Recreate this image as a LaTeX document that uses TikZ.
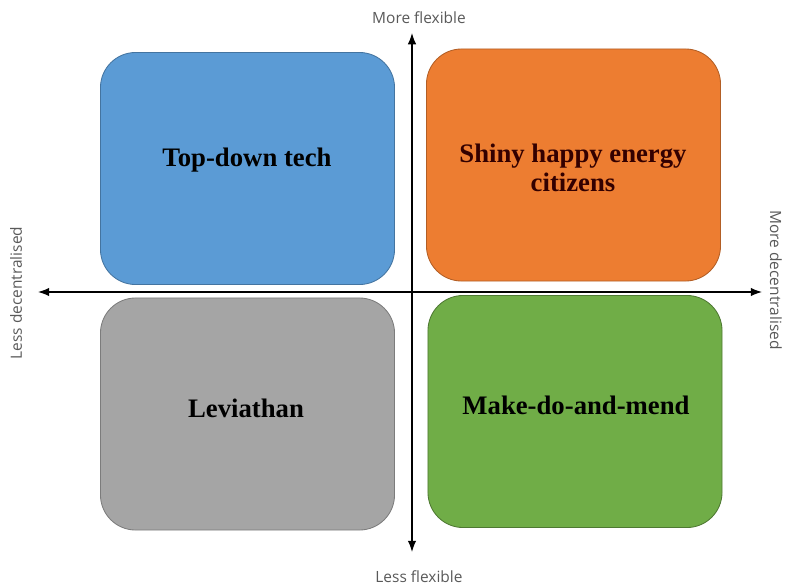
\documentclass[tikz,border=0pt]{standalone}
\usepackage{fontspec}
\setmainfont{Liberation Serif}
\newfontfamily\axisfont{Open Sans}
\usetikzlibrary{arrows.meta}

\definecolor{qblue}{HTML}{5B9BD5}
\definecolor{qorange}{HTML}{ED7D31}
\definecolor{qgray}{HTML}{A5A5A5}
\definecolor{qgreen}{HTML}{70AD47}

\begin{document}
\begin{tikzpicture}[x=0.025cm, y=-0.025cm,
        quad/.style={rounded corners=25pt, line width=0.6pt, minimum width=7.35cm,
            minimum height=5.8cm},
        quadtext/.style={align=center, font=\fontsize{19}{21}\selectfont\bfseries},
        axislabel/.style={font=\axisfont\fontsize{11}{12}\selectfont, text=black!65},
        axis/.style={line width=0.8pt, {Latex[length=8pt,width=6pt]}-{Latex[length=8pt,width=6pt]}}]
        \useasboundingbox (0,0) rectangle (785,587);

        % the four quadrants
        \node[quad, fill=qblue, draw=qblue!75!black] (topdown) at (247.5,168.5) {};
        \node[quad, fill=qorange, draw=qorange!75!black] (shiny) at (573.5,165) {};
        \node[quad, fill=qgray, draw=qgray!75!black] (leviathan) at (247.5,414) {};
        \node[quad, fill=qgreen, draw=qgreen!70!black] (makedo) at (575,411.5) {};

        \node[quadtext] (topdowntext) at (247,160) {Top-down tech};
        \node[quadtext, text=black!80!red] (shinytext) at (573,168) {Shiny happy energy\\citizens};
        \node[quadtext] (leviathantext) at (246,408) {Leviathan};
        \node[quadtext] (makedotext) at (576,405) {Make-do-and-mend};

        % axes
        \coordinate (west) at (38,292);
        \coordinate (east) at (762,292);
        \coordinate (north) at (412,33);
        \coordinate (south) at (412,552);

        \draw[axis] (west) -- (east);
        \draw[axis] (north) -- (south);

        \node[axislabel] (flexmore) at (419,18) {More flexible};
        \node[axislabel] (flexless) at (419,577) {Less flexible};
        \node[axislabel, rotate=90] (decless) at (16,293) {Less decentralised};
        \node[axislabel, rotate=-90] (decmore) at (776,280) {More decentralised};
    \end{tikzpicture}
\end{document}
